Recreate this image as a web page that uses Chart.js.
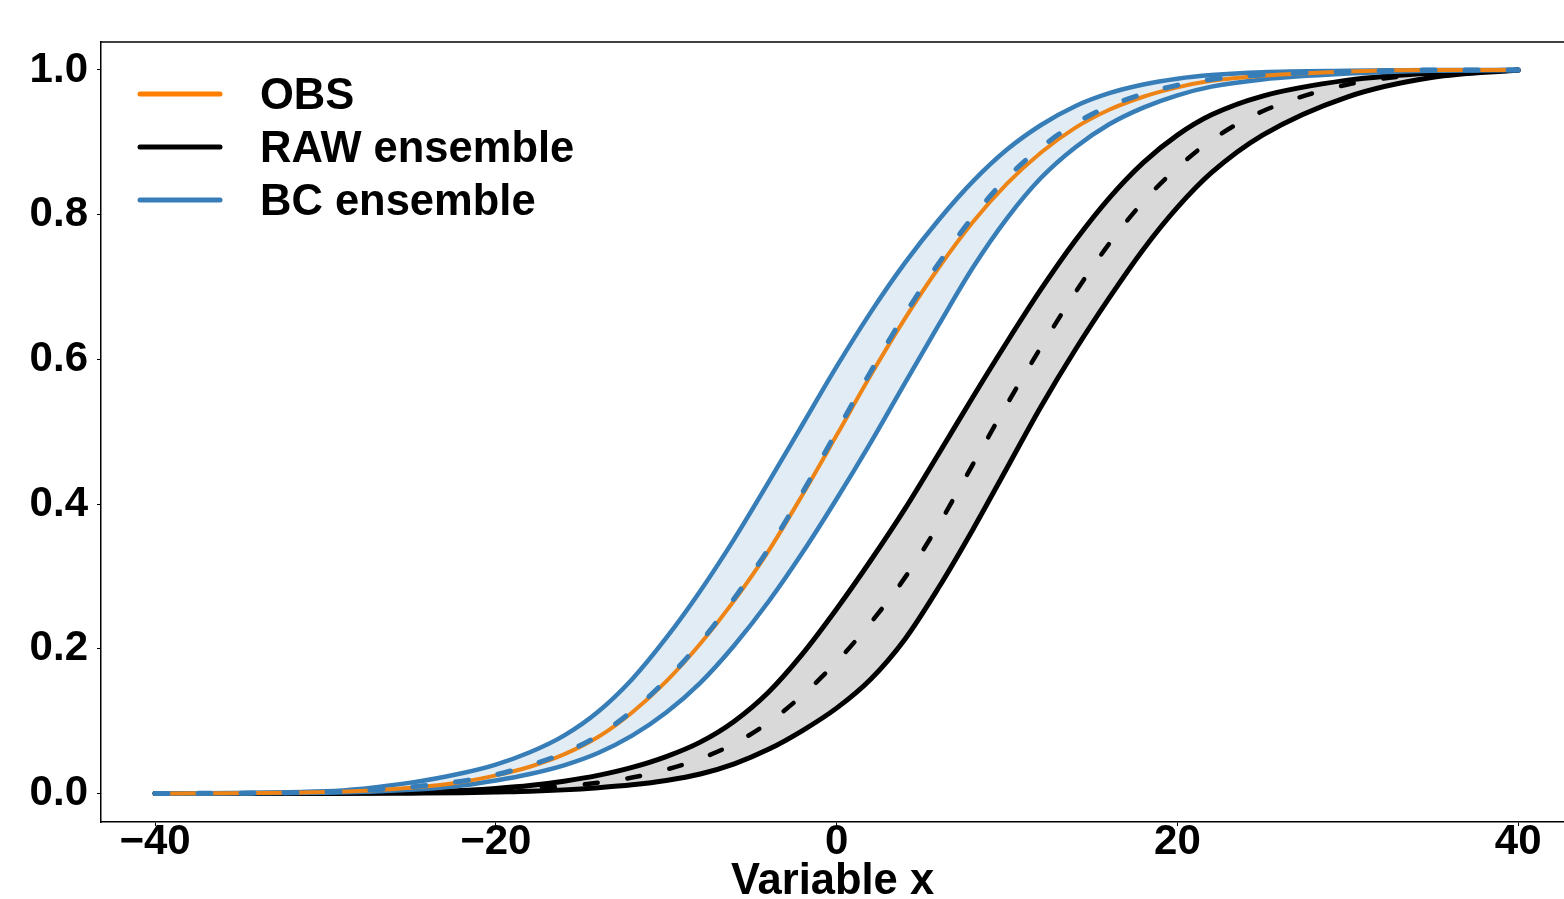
<!DOCTYPE html>
<html>
<head>
<meta charset="utf-8">
<script src="https://cdn.jsdelivr.net/npm/chart.js@4.4.1/dist/chart.umd.min.js"></script>
<style>
  html, body { margin: 0; padding: 0; background: #fff; overflow: hidden; }
  .chart-box { position: relative; width: 1564px; height: 899px; }
</style>
</head>
<body>
<div class="chart-box"><canvas id="myChart"></canvas></div>
<script>
// x grid shared by all curves (variable x)
const xs = [-40, -30, -25, -22, -20, -18, -16, -14, -12, -10, -8, -6, -4, -2, 0, 2, 4, 6, 8, 10, 12, 14, 16, 18, 20, 22, 25, 30, 35, 40];

// cumulative probabilities
const obs = [0, 0.002, 0.008, 0.016, 0.025, 0.037, 0.054, 0.078, 0.112, 0.155, 0.207, 0.267, 0.335, 0.413, 0.495, 0.578, 0.656, 0.727, 0.79, 0.843, 0.886, 0.92, 0.945, 0.963, 0.976, 0.985, 0.992, 0.998, 1.0, 1.0];
const bcMean = [0, 0.002, 0.009, 0.017, 0.026, 0.039, 0.056, 0.08, 0.114, 0.157, 0.209, 0.27, 0.338, 0.416, 0.5, 0.583, 0.662, 0.733, 0.797, 0.851, 0.893, 0.926, 0.95, 0.967, 0.979, 0.987, 0.993, 0.998, 1.0, 1.0];
const bcHi = [0, 0.003, 0.015, 0.028, 0.04, 0.057, 0.08, 0.113, 0.158, 0.215, 0.28, 0.352, 0.43, 0.51, 0.59, 0.665, 0.733, 0.793, 0.846, 0.89, 0.924, 0.95, 0.968, 0.98, 0.988, 0.993, 0.997, 0.999, 1.0, 1.0];
const bcLo = [0, 0.001, 0.005, 0.011, 0.018, 0.027, 0.039, 0.056, 0.08, 0.112, 0.153, 0.205, 0.265, 0.333, 0.407, 0.485, 0.567, 0.648, 0.727, 0.795, 0.851, 0.893, 0.925, 0.948, 0.965, 0.977, 0.987, 0.995, 0.999, 1.0];
const rawHi = [0, 0.0005, 0.002, 0.004, 0.007, 0.011, 0.017, 0.025, 0.036, 0.051, 0.071, 0.1, 0.14, 0.193, 0.255, 0.322, 0.393, 0.47, 0.548, 0.624, 0.697, 0.764, 0.823, 0.872, 0.91, 0.938, 0.964, 0.986, 0.996, 1.0];
const rawMean = [0, 0.0005, 0.0015, 0.003, 0.005, 0.007, 0.01, 0.015, 0.022, 0.033, 0.048, 0.069, 0.098, 0.136, 0.182, 0.236, 0.298, 0.372, 0.455, 0.538, 0.617, 0.692, 0.76, 0.818, 0.865, 0.903, 0.943, 0.98, 0.995, 1.0];
const rawLo = [0, 0, 0.0005, 0.001, 0.002, 0.003, 0.005, 0.008, 0.012, 0.018, 0.027, 0.041, 0.061, 0.087, 0.118, 0.158, 0.213, 0.285, 0.365, 0.45, 0.535, 0.613, 0.685, 0.752, 0.81, 0.858, 0.91, 0.963, 0.99, 1.0];

const xTicks = [-40, -20, 0, 20, 40];
const yTicks = [0, 0.2, 0.4, 0.6, 0.8, 1.0];
const legendLabels = ["OBS", "RAW ensemble", "BC ensemble"];
const legendColors = ["#ff7f00", "#000000", "#377eb8"];

const FONT = "'Liberation Sans', Arial, Helvetica, sans-serif";

function pts(ys) {
  return xs.map((x, i) => ({ x: x, y: ys[i] }));
}

function line(label, ys, color, width, order, extra) {
  return Object.assign({
    label: label,
    data: pts(ys),
    borderColor: color,
    borderWidth: width,
    pointRadius: 0,
    fill: false,
    cubicInterpolationMode: "monotone",
    borderCapStyle: "round",
    borderJoinStyle: "round",
    order: order,
  }, extra || {});
}

// top spine + legend drawn inside the plot area
const frameAndLegend = {
  id: "frameAndLegend",
  afterDraw(chart) {
    const c = chart.ctx;
    const a = chart.chartArea;
    c.save();
    c.strokeStyle = "#000";
    c.lineWidth = 1.5;
    c.beginPath();
    c.moveTo(a.left, a.top);
    c.lineTo(a.right, a.top);
    c.stroke();

    c.font = "bold 43.5px " + FONT;
    c.textBaseline = "middle";
    c.textAlign = "left";
    c.lineCap = "round";
    legendLabels.forEach((txt, i) => {
      const y = a.top + 52 + i * 53;
      c.strokeStyle = legendColors[i];
      c.lineWidth = 5;
      c.beginPath();
      c.moveTo(a.left + 39, y);
      c.lineTo(a.left + 119, y);
      c.stroke();
      c.fillStyle = "#000";
      c.fillText(txt, a.left + 159, y + 3);
    });
    c.restore();
  },
};

const ctx = document.getElementById("myChart");

new Chart(ctx, {
  type: "line",
  data: {
    datasets: [
      line("RAW upper", rawHi, "#000000", 5, 6, { fill: "+1", backgroundColor: "#d9d9d9" }),
      line("RAW lower", rawLo, "#000000", 5, 5),
      line("RAW mean", rawMean, "#000000", 4.5, 4, { borderDash: [13, 30] }),
      line("BC upper", bcHi, "#377eb8", 4.5, 3, { fill: "+1", backgroundColor: "rgba(55,126,184,0.15)" }),
      line("BC lower", bcLo, "#377eb8", 4.5, 2),
      line("OBS", obs, "#ee8316", 4, 1),
      line("BC mean", bcMean, "#377eb8", 5, 0, { borderDash: [13, 30] }),
    ],
  },
  options: {
    responsive: true,
    maintainAspectRatio: false,
    animation: false,
    layout: {
      padding: { left: 0, right: 0, top: 42, bottom: 0 },
    },
    plugins: {
      legend: { display: false },
      tooltip: { enabled: false },
    },
    scales: {
      x: {
        type: "linear",
        min: -43.17,
        max: 42.69,
        afterBuildTicks: (s) => { s.ticks = xTicks.map((v) => ({ value: v })); },
        afterFit: (s) => { s.height = 77; },
        grid: { drawOnChartArea: false, drawTicks: true, tickLength: 4, color: "#000" },
        border: { color: "#000", width: 1.5 },
        ticks: {
          color: "#000",
          padding: -5,
          font: { family: FONT, size: 42, weight: "bold", lineHeight: 1 },
          callback: (v) => (v < 0 ? "\u2212" + Math.abs(v) : String(v)),
        },
        title: {
          display: true,
          text: "Variable x",
          color: "#000",
          padding: { top: 0, bottom: -5 },
          font: { family: FONT, size: 43.5, weight: "bold", lineHeight: 1 },
        },
      },
      y: {
        type: "linear",
        min: -0.0394,
        max: 1.0387,
        afterBuildTicks: (s) => { s.ticks = yTicks.map((v) => ({ value: v })); },
        afterFit: (s) => { s.width = 101; },
        grid: { drawOnChartArea: false, drawTicks: true, tickLength: 4, color: "#000" },
        border: { color: "#000", width: 1.5 },
        ticks: {
          color: "#000",
          padding: 9,
          font: { family: FONT, size: 42, weight: "bold" },
          callback: (v) => v.toFixed(1),
        },
      },
    },
  },
  plugins: [frameAndLegend],
});
</script>
</body>
</html>
